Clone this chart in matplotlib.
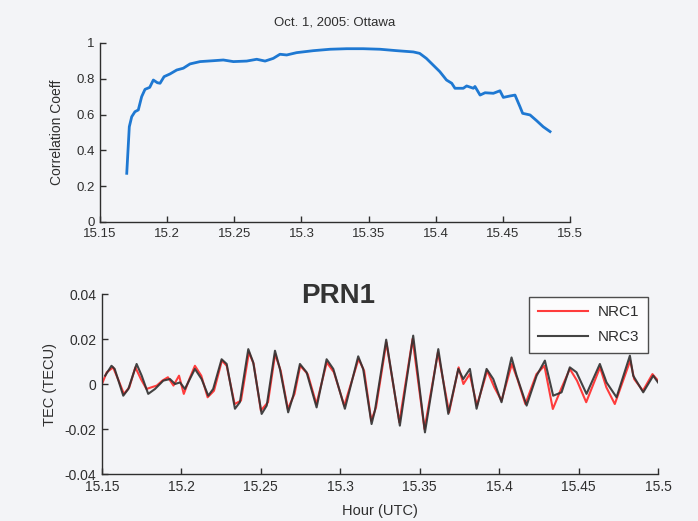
"""
    Correlation between the NRC1 and NRC3 receivers and the TEC
    fluctuations seen on PRN1, Oct. 1 2005, Ottawa
"""

import matplotlib
matplotlib.use("Agg")
import matplotlib.pyplot as plt

# correlation coefficient of the two TEC series
corr_hour = [15.1699, 15.1718, 15.1736, 15.176, 15.1785, 15.181, 15.1835, 15.187,
             15.1897, 15.1927, 15.1947, 15.1977, 15.2021, 15.2071, 15.212, 15.217,
             15.2245, 15.2344, 15.2418, 15.2493, 15.2592, 15.2667, 15.2729, 15.279,
             15.284, 15.289, 15.2964, 15.3088, 15.3213, 15.3337, 15.346, 15.3585,
             15.371, 15.3833, 15.388, 15.393, 15.398, 15.403, 15.408, 15.4119,
             15.4143, 15.4205, 15.423, 15.428, 15.4292, 15.433, 15.4367, 15.4429,
             15.4478, 15.4503, 15.4553, 15.459, 15.4627, 15.4647, 15.4702, 15.4751,
             15.48, 15.4851]
corr_coeff = [0.272, 0.532, 0.588, 0.616, 0.626, 0.70, 0.741, 0.752,
              0.793, 0.778, 0.775, 0.812, 0.827, 0.849, 0.859, 0.883,
              0.896, 0.901, 0.905, 0.896, 0.899, 0.909, 0.899, 0.914,
              0.937, 0.933, 0.946, 0.957, 0.965, 0.968, 0.968, 0.965,
              0.957, 0.950, 0.942, 0.914, 0.877, 0.84, 0.793, 0.775,
              0.747, 0.747, 0.76, 0.747, 0.757, 0.709, 0.722, 0.719,
              0.733, 0.696, 0.704, 0.709, 0.644, 0.607, 0.598, 0.566,
              0.532, 0.505]

# detrended TEC, NRC1 receiver
nrc1_hour = [15.15, 15.153, 15.157, 15.1605, 15.1638, 15.1672, 15.171, 15.1745,
             15.178, 15.181, 15.1845, 15.188, 15.1915, 15.195, 15.1985, 15.2015,
             15.205, 15.2085, 15.2125, 15.2165, 15.2205, 15.2255, 15.2285, 15.2335,
             15.2375, 15.2425, 15.2455, 15.25, 15.2545, 15.259, 15.2625, 15.267,
             15.2712, 15.2748, 15.2795, 15.285, 15.2915, 15.296, 15.3025, 15.3115,
             15.315, 15.3195, 15.3225, 15.329, 15.3372, 15.3455, 15.353, 15.3615,
             15.3685, 15.3745, 15.3775, 15.3815, 15.386, 15.3925, 15.397, 15.4015,
             15.408, 15.4115, 15.4165, 15.4235, 15.4285, 15.4338, 15.439, 15.4445,
             15.449, 15.4548, 15.4635, 15.4675, 15.4728, 15.4825, 15.485, 15.4905,
             15.4965, 15.5]
nrc1_tec = [0.0, 0.0052, 0.0074, 0.0015, -0.0044, -0.0015, 0.0074, 0.0022,
            -0.0022, -0.0015, -0.0007, 0.0015, 0.0030, -0.0007, 0.0037, -0.0044,
            0.0022, 0.0081, 0.0037, -0.0059, -0.0030, 0.0104, 0.0081, -0.0089,
            -0.0074, 0.0141, 0.0089, -0.0118, -0.0081, 0.0133, 0.0059, -0.0111,
            -0.0044, 0.0081, 0.0044, -0.0089, 0.0096, 0.0052, -0.0096, 0.0111,
            0.0059, -0.0163, -0.0104, 0.0185, -0.0170, 0.0200, -0.0200, 0.0141,
            -0.0126, 0.0074, 0.0, 0.0044, -0.0096, 0.0059, -0.0015, -0.0074,
            0.0089, 0.0022, -0.0089, 0.0044, 0.0081, -0.0111, -0.0022, 0.0067,
            0.0015, -0.0081, 0.0074, -0.0015, -0.0089, 0.0104, 0.0022, -0.0030,
            0.0044, 0.0015]

# detrended TEC, NRC3 receiver
nrc3_hour = [15.152, 15.156, 15.158, 15.1634, 15.1666, 15.1718, 15.175, 15.1791,
             15.1834, 15.1886, 15.1928, 15.196, 15.1991, 15.2022, 15.2085, 15.2127,
             15.2169, 15.22, 15.2253, 15.2285, 15.2337, 15.2368, 15.2421, 15.2452,
             15.2505, 15.2537, 15.2589, 15.262, 15.2672, 15.2704, 15.2746, 15.2788,
             15.2851, 15.2914, 15.2956, 15.3029, 15.3113, 15.3144, 15.3197, 15.3218,
             15.3289, 15.3375, 15.3459, 15.3533, 15.3617, 15.368, 15.3743, 15.3774,
             15.3816, 15.3858, 15.3921, 15.3963, 15.4015, 15.4078, 15.411, 15.4173,
             15.4236, 15.4288, 15.434, 15.4393, 15.4445, 15.4487, 15.455, 15.4634,
             15.4676, 15.4739, 15.4823, 15.4844, 15.4907, 15.497, 15.5]
nrc3_tec = [0.0037, 0.0081, 0.0067, -0.0052, -0.0022, 0.0089, 0.0037, -0.0044,
            -0.0022, 0.0015, 0.0022, 0.0, 0.0007, -0.0022, 0.0067, 0.0022,
            -0.0052, -0.0022, 0.011, 0.0089, -0.011, -0.0081, 0.0155, 0.0096,
            -0.0133, -0.0096, 0.0148, 0.0067, -0.0126, -0.0052, 0.0089, 0.0052,
            -0.0104, 0.011, 0.0067, -0.011, 0.0123, 0.0067, -0.0178, -0.0118,
            0.0197, -0.0185, 0.0215, -0.0215, 0.0155, -0.0133, 0.0067, 0.0022,
            0.0067, -0.011, 0.0067, 0.0022, -0.0081, 0.0118, 0.0037, -0.0096,
            0.0037, 0.0104, -0.0052, -0.0037, 0.0074, 0.0052, -0.0044, 0.0089,
            0.0007, -0.0059, 0.0126, 0.0037, -0.0037, 0.0037, 0.0007]

hour_ticks = [15.15, 15.2, 15.25, 15.3, 15.35, 15.4, 15.45, 15.5]
hour_labels = ["15.15", "15.2", "15.25", "15.3", "15.35", "15.4", "15.45", "15.5"]
corr_ticks = [0, 0.2, 0.4, 0.6, 0.8, 1]
corr_labels = ["0", "0.2", "0.4", "0.6", "0.8", "1"]
tec_ticks = [-0.04, -0.02, 0, 0.02, 0.04]
tec_labels = ["-0.04", "-0.02", "0", "0.02", "0.04"]

bg = "#f3f4f7"
ink = "#2e2e2e"

plt.rcParams["font.family"] = ["Liberation Sans", "DejaVu Sans"]

fig = plt.figure(figsize=(6.98, 5.21), dpi=100, facecolor=bg)


def matlab_axes(ax):
    ax.set_facecolor(bg)
    for side in ("top", "right"):
        ax.spines[side].set_visible(False)
    for side in ("left", "bottom"):
        ax.spines[side].set_color(ink)
        ax.spines[side].set_linewidth(1.0)
    ax.tick_params(direction="in", length=4, width=1.0, color=ink,
                   labelcolor=ink, labelsize=9.5, pad=4)


# top panel: correlation coefficient
ax1 = fig.add_axes([0.1433, 0.5739, 0.6734, 0.3436])
matlab_axes(ax1)
ax1.plot(corr_hour, corr_coeff, color="#1e78d2", lw=2.0)
ax1.set_xlim(15.15, 15.5)
ax1.set_ylim(0, 1)
ax1.set_xticks(hour_ticks)
ax1.set_xticklabels(hour_labels)
ax1.set_yticks(corr_ticks)
ax1.set_yticklabels(corr_labels)
ax1.set_ylabel("Correlation Coeff", fontsize=10, color=ink)
ax1.yaxis.set_label_coords(-0.0766, 0.5)
ax1.text(0.5, 1.112, "Oct. 1, 2005: Ottawa", transform=ax1.transAxes,
         ha="center", va="center", fontsize=9.5, color=ink)

# bottom panel: TEC from both receivers
ax2 = fig.add_axes([0.1461, 0.0902, 0.7966, 0.3455])
matlab_axes(ax2)
ax2.tick_params(labelsize=10)
ax2.plot(nrc1_hour, nrc1_tec, color="#ff3c3c", lw=1.5, label="NRC1")
ax2.plot(nrc3_hour, nrc3_tec, color="#303030", lw=1.5, alpha=0.9, label="NRC3")
ax2.set_xlim(15.15, 15.5)
ax2.set_ylim(-0.04, 0.04)
ax2.set_xticks(hour_ticks)
ax2.set_xticklabels(hour_labels)
ax2.set_yticks(tec_ticks)
ax2.set_yticklabels(tec_labels)
ax2.set_ylabel("TEC (TECU)", fontsize=10.5, color=ink)
ax2.yaxis.set_label_coords(-0.081, 0.5)
ax2.set_xlabel("Hour (UTC)", fontsize=10.5, color=ink)
ax2.xaxis.set_label_coords(0.5, -0.165)
ax2.text(0.4245, 0.989, "PRN1", transform=ax2.transAxes, ha="center",
         va="center", fontsize=20, fontweight="bold", color="#333333")

leg = ax2.legend(loc="upper right", bbox_to_anchor=(0.982, 0.983),
                 borderaxespad=0, fancybox=False, fontsize=11,
                 handlelength=3.3, handletextpad=0.65, labelspacing=0.7,
                 borderpad=0.55)
leg.get_frame().set_edgecolor("#222222")
leg.get_frame().set_facecolor("white")
leg.get_frame().set_linewidth(1.0)
for t in leg.get_texts():
    t.set_color(ink)

plt.savefig("out.png", dpi=100, facecolor=bg)
